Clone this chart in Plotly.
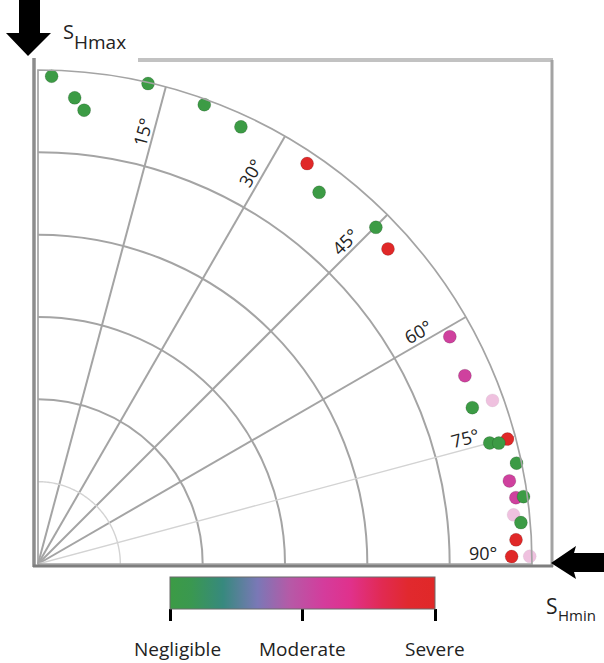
import numpy as np
import plotly.graph_objects as go

# ---------------- data ----------------
# fracture strike relative to S_Hmax (deg) and dip (deg), damage severity (0..1)
strike_deg = [1.6, 4.5, 5.8, 12.9, 19.9, 24.9, 33.9, 37.1, 45.1, 48.0,
              61.1, 66.2, 70.2, 70.2, 75.1, 75.0, 75.3, 78.1, 80.0, 82.1,
              82.1, 84.1, 85.1, 87.1, 89.1, 89.1]
dip_deg = [88.9, 85.2, 83.1, 89.8, 89.0, 87.8, 87.9, 84.9, 86.9, 85.8,
           85.7, 85.0, 88.0, 84.1, 88.5, 85.2, 86.8, 89.1, 87.2, 87.9,
           89.3, 87.1, 88.3, 87.2, 86.3, 89.6]
severity = [0, 0, 0, 0, 0, 0, 1, 0, 0, 1,
            0.56, 0.56, 0.56, 0, 1, 0, 0, 0, 0.56, 0.56,
            0, 0.56, 0, 1, 1, 0.56]
point_opacity = [1, 1, 1, 1, 1, 1, 1, 1, 1, 1,
                 1, 1, 0.32, 1, 1, 1, 1, 1, 1, 1,
                 1, 0.32, 1, 1, 1, 0.32]

angle_ticks = [15, 30, 45, 60, 75, 90]
dip_circles = [15, 30, 45, 60, 75, 90]
severity_ticks = [0, 0.5, 1]
severity_labels = ["Negligible", "Moderate", "Severe"]

# ---------------- layout geometry (pixels) ----------------
W, H = 604, 663
OX, OY, R = 38, 564, 494   # polar origin and radius in px


def px(x):
    return x / W


def py(y):
    return 1 - y / H


def path(points):
    s = "M " + " L ".join(f"{px(x):.5f},{py(y):.5f}" for x, y in points) + " Z"
    return s


colorscale = [
    [0.00, "#3c9b45"], [0.08, "#3a9850"], [0.20, "#37897e"],
    [0.33, "#7a78b6"], [0.45, "#b55aa7"], [0.58, "#d43c9c"],
    [0.68, "#e0318c"], [0.80, "#e12a52"], [0.90, "#e1292e"],
    [1.00, "#e02828"],
]

FONT = "Open Sans"
GRID = "#a4a4a4"
LIGHT = "#d3d3d3"

fig = go.Figure()

# lighter inner circle and lighter 75-degree spoke
theta_arc = np.linspace(0, 90, 91)
fig.add_trace(go.Scatterpolar(
    r=[dip_circles[0]] * len(theta_arc), theta=theta_arc, mode="lines",
    line=dict(color=LIGHT, width=1.4), hoverinfo="skip", showlegend=False))
fig.add_trace(go.Scatterpolar(
    r=[0, dip_circles[-1]], theta=[angle_ticks[4]] * 2, mode="lines",
    line=dict(color=LIGHT, width=1.4), hoverinfo="skip", showlegend=False))

# data points
fig.add_trace(go.Scatterpolar(
    r=dip_deg, theta=strike_deg, mode="markers", cliponaxis=False,
    marker=dict(size=13, color=severity, colorscale=colorscale, cmin=0, cmax=1,
                opacity=point_opacity,
                line=dict(width=1, color="rgba(0,0,0,0.14)"),
                showscale=True,
                colorbar=dict(orientation="h", x=px(170), xanchor="left",
                              y=py(577), yanchor="top", lenmode="pixels", len=265,
                              thickness=32, xpad=0, ypad=0,
                              outlinewidth=1, outlinecolor="#6a6a6a",
                              tickvals=severity_ticks, ticks="outside", ticklen=12,
                              tickwidth=3, tickcolor="black", showticklabels=False)),
    showlegend=False, hoverinfo="skip"))

fig.update_layout(
    width=W, height=H, margin=dict(l=0, r=0, t=0, b=0),
    paper_bgcolor="white", plot_bgcolor="white",
    font=dict(family=FONT, color="#222"),
    polar=dict(
        domain=dict(x=[px(OX), px(OX + R)], y=[py(OY), py(OY - R)]),
        sector=[0, 90], bgcolor="white",
        angularaxis=dict(rotation=90, direction="clockwise",
                         tickvals=angle_ticks[:4], showticklabels=False, ticks="",
                         gridcolor=GRID, gridwidth=1.7,
                         showline=True, linecolor=GRID, linewidth=1.7),
        radialaxis=dict(range=[0, 90], tickvals=dip_circles[1:5],
                        showticklabels=False, ticks="", showline=False,
                        gridcolor=GRID, gridwidth=1.7),
    ),
)

shapes = []
# frame
shapes.append(dict(type="line", xref="paper", yref="paper", x0=px(138), x1=px(553), y0=py(60), y1=py(60),
                   line=dict(color="#c2c2c2", width=4)))
shapes.append(dict(type="line", xref="paper", yref="paper", x0=px(552), x1=px(552), y0=py(60), y1=py(567),
                   line=dict(color="#a3a3a3", width=3)))
shapes.append(dict(type="line", xref="paper", yref="paper", x0=px(34), x1=px(34), y0=py(58), y1=py(567),
                   line=dict(color="#8c8c8c", width=3.5)))
shapes.append(dict(type="line", xref="paper", yref="paper", x0=px(33), x1=px(553), y0=py(566), y1=py(566),
                   line=dict(color="#7e7e7e", width=3)))
# stress arrows
shapes.append(dict(type="path", xref="paper", yref="paper",
                   path=path([(19, 0), (40, 0), (40, 33), (51, 33), (28, 56), (6, 33), (19, 33)]),
                   fillcolor="black", line=dict(width=0)))
shapes.append(dict(type="path", xref="paper", yref="paper",
                   path=path([(551, 563), (576, 546), (574, 553), (604, 553), (604, 572),
                              (574, 572), (576, 579)]),
                   fillcolor="black", line=dict(width=0)))
fig.update_layout(shapes=shapes)

ann = []
# angle labels inside the outer arc
r_lab = 81 / 90 * R
for a in angle_ticks:
    t = np.radians(a)
    x = OX + r_lab * np.sin(t) - 11 * np.cos(t)
    y = OY - r_lab * np.cos(t) - 11 * np.sin(t)
    ann.append(dict(x=px(x), y=py(y), xref="paper", yref="paper", text=f"{a}°",
                    textangle=-(90 - a), showarrow=False, xanchor="center", yanchor="middle",
                    font=dict(size=18, color="#222", family=FONT)))

# S_Hmax / S_Hmin labels
ann.append(dict(x=px(61), y=py(31), xref="paper", yref="paper", text="S", showarrow=False,
                xanchor="left", yanchor="middle", font=dict(size=20, color="#222", family=FONT)))
ann.append(dict(x=px(72), y=py(42), xref="paper", yref="paper", text="Hmax", showarrow=False,
                xanchor="left", yanchor="middle", font=dict(size=19, color="#222", family=FONT)))
ann.append(dict(x=px(544), y=py(606), xref="paper", yref="paper", text="S", showarrow=False,
                xanchor="left", yanchor="middle", font=dict(size=21, color="#222", family=FONT)))
ann.append(dict(x=px(556), y=py(615), xref="paper", yref="paper", text="Hmin", showarrow=False,
                xanchor="left", yanchor="middle", font=dict(size=15, color="#222", family=FONT)))

# colour bar tick labels
bar_x0, bar_len = 170, 265
for v, lab in zip(severity_ticks, severity_labels):
    xc = bar_x0 + v * bar_len
    if v == 0:
        xc += 7
    ann.append(dict(x=px(xc), y=py(649), xref="paper", yref="paper", text=lab, showarrow=False,
                    xanchor="center", yanchor="middle", font=dict(size=19, color="#222", family=FONT)))
fig.update_layout(annotations=ann)

fig.write_html("out.html", config={"displayModeBar": False},
               post_script="document.body.style.margin='0px';document.body.style.overflow='hidden';")
